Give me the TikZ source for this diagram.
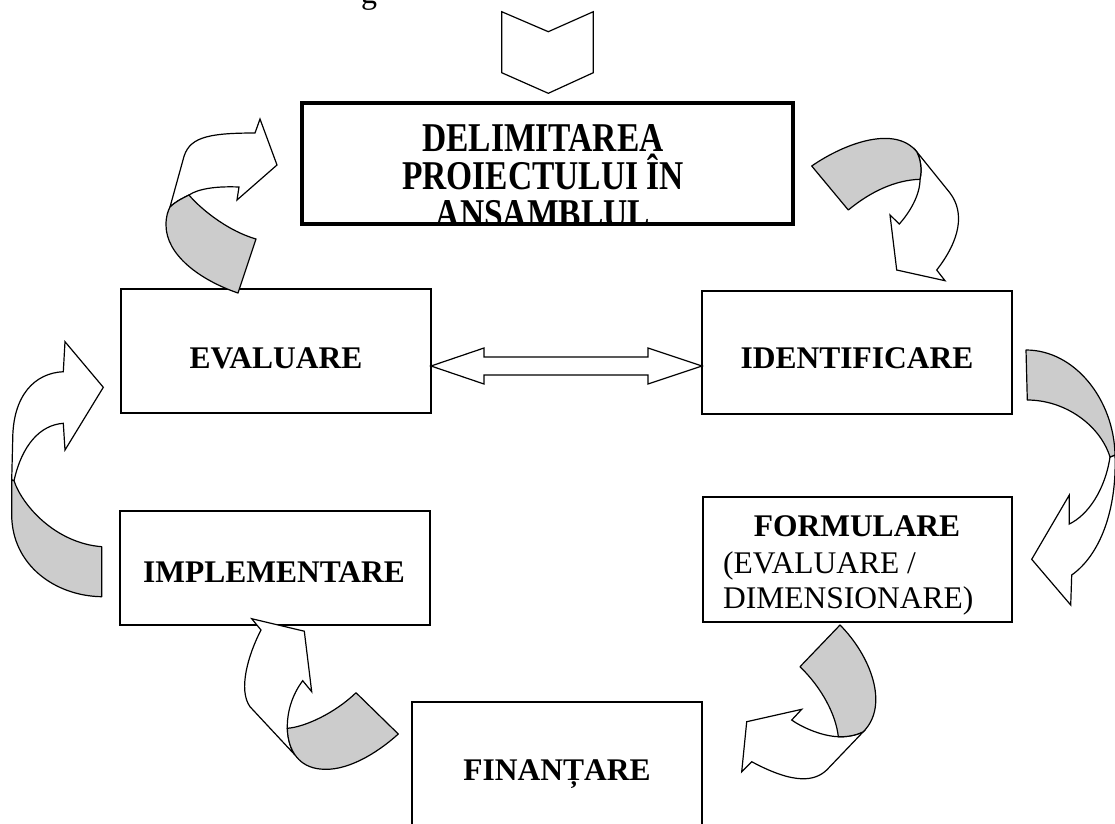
\documentclass[tikz,border=0pt]{standalone}
\usepackage{fontspec}
\setmainfont{Liberation Serif}
\usetikzlibrary{calc}
\begin{document}
\begin{tikzpicture}[x=1pt,y=-1pt,
  box/.style={draw=black, line width=1.4pt, fill=white, inner sep=0pt, outer sep=0pt},
  delimbox/.style={draw=black, line width=4pt, inner sep=0pt, outer sep=0pt, minimum width=491pt, minimum height=121pt},
  lbl/.style={font=\bfseries\fontsize{31.5}{36}\selectfont, anchor=base, inner sep=0pt},
  biglbl/.style={font=\bfseries\fontsize{33.5}{36}\selectfont, anchor=base, inner sep=0pt},
  reglbl/.style={font=\fontsize{31.5}{36}\selectfont, anchor=base west, inner sep=0pt},
  shadepart/.style={draw=black, line width=1.2pt, fill=black!20, line join=round},
  whitepart/.style={draw=black, line width=1.2pt, fill=white, line join=miter}]
\useasboundingbox (0,0) rectangle (1115,823);

% fragment of the line above
\node[font=\fontsize{32}{36}\selectfont, anchor=base, inner sep=0pt] (gfrag) at (369,3) {g};

% chevron
\draw[whitepart] (501.7,11.7) -- (548.3,31.7) -- (593.3,11.7) -- (593.3,72.7) -- (548.3,93.3) -- (501.7,72.7) -- cycle;

% boxes
\node[delimbox] (delim) at (547.5,163) {};
\begin{scope}
  \clip (delim.south west) rectangle (delim.north east);
  \node[biglbl] (dl1) at (543,151) {\scalebox{1}[1.22]{DELIMITAREA}};
  \node[biglbl] (dl2) at (543,189) {\scalebox{1}[1.22]{PROIECTULUI ÎN}};
  \node[biglbl] (dl3) at (543,227) {\scalebox{1}[1.22]{ANSAMBLUL}};
\end{scope}

\node[box, minimum width=310pt, minimum height=124pt] (eval) at (276,351) {};
\node[lbl] (evaltxt) at (276,368) {EVALUARE};

\node[box, minimum width=310pt, minimum height=123pt] (ident) at (857,352.5) {};
\node[lbl] (identtxt) at (857,368) {IDENTIFICARE};

\node[box, minimum width=309pt, minimum height=125pt] (form) at (857.5,559.5) {};
\node[lbl] (formtxt) at (857,536) {FORMULARE};
\node[reglbl] (formtxt2) at (723,573) {(EVALUARE /};
\node[reglbl] (formtxt3) at (723,608) {DIMENSIONARE)};

\node[box, minimum width=310pt, minimum height=114pt] (impl) at (275,568) {};
\node[lbl] (impltxt) at (274,582) {IMPLEMENTARE};

\node[box, minimum width=290pt, minimum height=128pt] (finan) at (557,766) {};
\node[lbl] (finantxt) at (557,780) {FINANȚARE};

% double arrow between EVALUARE and IDENTIFICARE
\coordinate (dl) at ($(eval.east)+(0,15)$);
\coordinate (dr) at (dl -| ident.west);
\draw[whitepart] (dl) -- ++(53,-18) -- ++(0,9) -- ($(dr)+(-54,-9)$) -- ++(0,-9) -- (dr)
  -- ++(-54,18) -- ++(0,-9) -- ($(dl)+(53,9)$) -- ++(0,9) -- cycle;

% curved arrow 1 (EVALUARE -> DELIMITAREA)
\draw[whitepart] (170,207) -- (183,160) .. controls (188,138) and (205,133) .. (255,133)
  -- (260,119) -- (277,165) -- (237,200) -- (239,187)
  .. controls (215,186) and (198,189) .. (189,195)
  .. controls (181,199) and (175,202) .. (170,207) -- cycle;
\draw[shadepart] (189,195) .. controls (198,206) and (225,230) .. (256,239) -- (238,293)
  .. controls (200,280) and (166,255) .. (166,225)
  .. controls (166,216) and (168,211) .. (170,207)
  .. controls (175,202) and (181,199) .. (189,195) -- cycle;

% curved arrow 2 (DELIMITAREA -> IDENTIFICARE)
\draw[whitepart] (916.7,151.7) -- (950,193) .. controls (965,213) and (960,240) .. (936.7,270)
  -- (945,280.7) -- (896.7,270) -- (890,215) -- (899.3,224)
  .. controls (910,212) and (920,195) .. (920,179.3)
  .. controls (922,170) and (921,160) .. (916.7,151.7) -- cycle;
\draw[shadepart] (811.7,166) .. controls (845,143) and (895,125) .. (916.7,151.7)
  .. controls (921,160) and (922,170) .. (920,179.3)
  .. controls (895,180) and (870,192) .. (848.3,210) -- cycle;

% curved arrow 3 (IDENTIFICARE -> FORMULARE)
\draw[whitepart] (1115,455) .. controls (1117,510) and (1100,555) .. (1071.7,575)
  -- (1070.7,605) -- (1031.7,559.3) -- (1069.3,495) -- (1069.3,524)
  .. controls (1088,515) and (1105,490) .. (1110,457) -- cycle;
\draw[shadepart] (1026,350) .. controls (1075,350) and (1114,400) .. (1115,455)
  -- (1110,457) .. controls (1100,425) and (1065,400) .. (1027.3,400) -- cycle;

% curved arrow 4 (FORMULARE -> FINANTARE)
\draw[whitepart] (863.3,731.7) -- (826.7,770) .. controls (815,781) and (795,785) .. (751.7,761.7)
  -- (741.7,771.7) -- (746.7,721.7) -- (801.7,709.3) -- (791.7,720)
  .. controls (800,726) and (820,736) .. (838.3,736.7)
  .. controls (845,737) and (855,736) .. (863.3,731.7) -- cycle;
\draw[shadepart] (840,625) .. controls (870,655) and (890,705) .. (863.3,731.7)
  .. controls (855,736) and (845,737) .. (838.3,736.7)
  .. controls (836,715) and (822,688) .. (800,666.7) -- cycle;

% curved arrow 5 (FINANTARE -> IMPLEMENTARE)
\draw[whitepart] (295,755) -- (250,706.7) .. controls (238,690) and (248,655) .. (261,630)
  -- (251.7,618.7) -- (304.3,631.2) -- (311.7,691.7) -- (302.7,680.7)
  .. controls (292,695) and (287,712) .. (287.3,728.3)
  .. controls (288,740) and (291,750) .. (295,755) -- cycle;
\draw[shadepart] (287.3,728.3) .. controls (305,727) and (335,713) .. (356,692.7) -- (398.3,734)
  .. controls (375,755) and (345,772) .. (320,769)
  .. controls (300,767) and (288,752) .. (287.3,728.3) -- cycle;

% curved arrow 6 (IMPLEMENTARE -> EVALUARE)
\draw[whitepart] (11.7,480) -- (12.7,440) .. controls (12.7,395) and (35,373) .. (63.3,371.7)
  -- (65,341.7) -- (103.3,387.3) -- (65,450) -- (63.3,423.3)
  .. controls (40,425) and (22,445) .. (14,480.7) -- cycle;
\draw[shadepart] (14,480.7) .. controls (22,505) and (55,543) .. (101.7,546.7) -- (101.7,596.7)
  .. controls (55,596) and (12,565) .. (11.7,515) -- (11.7,480) -- cycle;
\end{tikzpicture}
\end{document}
